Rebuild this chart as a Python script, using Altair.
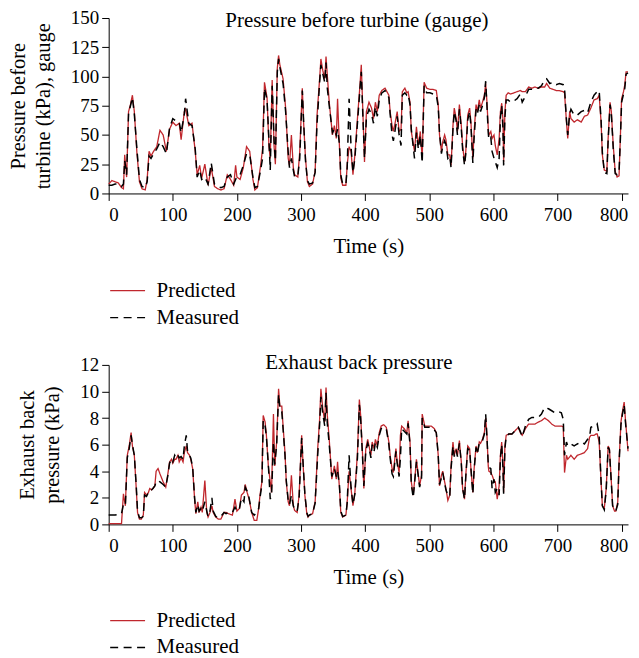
import altair as alt
import pandas as pd

FONT = "Liberation Serif"
RED = "#c0272d"

# ---------------- Top panel: pressure before turbine (kPa, gauge) ----------------
top_time = [0, 5, 10, 15, 20, 23, 25, 28, 31, 34, 37, 40, 44, 48, 52, 57,
            60, 63, 66, 70, 75, 80, 85, 90, 95, 100, 105, 110, 113, 118, 120, 125, 130,
            135, 138, 142, 145, 150, 155, 160, 165, 170, 175, 180, 185, 190, 195, 198, 200,
            205, 210, 215, 220, 225, 228, 232, 237, 240, 243, 247, 250, 252, 255, 258, 260,
            263, 265, 267, 272, 276, 280, 282, 285, 288, 290, 295, 298,
            302, 304, 307, 310, 313, 318, 322, 325, 329, 331, 334, 337, 339, 341, 344, 349,
            352, 355, 357, 360, 362, 365, 370, 372, 375, 378, 381, 384, 388, 392, 394, 397, 399,
            402, 406, 410, 413, 416, 419, 422, 426, 431, 437, 439, 442, 444, 447, 450, 453, 456, 458,
            462, 465, 467, 470, 472, 477, 480, 483, 486, 489, 492, 496,
            501, 506, 511, 514, 516, 519, 521, 524, 526, 529, 532, 534, 537, 539, 542, 544, 547, 550,
            552, 555, 557, 560, 563, 565, 568, 570, 573, 575, 578, 580, 583, 586, 588, 590,
            592, 593, 596, 598, 601, 603, 606, 609, 611, 613, 615, 616, 618, 620, 623, 627,
            632, 637, 642, 645, 650, 655, 660, 665, 670, 675, 680, 683, 688, 693, 698, 703, 709,
            711, 714, 716, 719, 721, 726, 731, 737, 742, 747, 752, 757, 762, 765,
            768, 770, 773, 777, 779, 782, 784, 787, 790, 793, 796, 798, 800, 803, 805, 807, 810]
top_predicted = [8, 11, 10, 9, 5, 4, 33, 14, 70, 76, 84, 70, 35, 10, 4, 3,
                 12, 36, 32, 36, 40, 54, 50, 36, 55, 61, 58, 60, 46, 70, 72, 58, 60,
                 36, 16, 24, 13, 25, 7, 22, 6, 4, 3, 4, 16, 12, 7, 24, 14,
                 12, 22, 40, 36, 12, 3, 5, 24, 38, 95, 82, 40, 30, 97, 40, 25,
                 107, 118, 110, 98, 73, 30, 24, 50, 22, 16, 14, 36,
                 90, 61, 30, 10, 6, 8, 19, 67, 98, 115, 105, 98, 117, 101, 78, 50,
                 58, 47, 81, 39, 13, 7, 7, 24, 40, 36, 16, 33, 64, 93, 110, 61, 27,
                 70, 78, 73, 64, 78, 70, 84, 88, 90, 84, 70, 58, 53, 61, 70, 53, 55, 87,
                 90, 86, 87, 78, 53, 36, 57, 41, 53, 30, 95, 90,
                 89, 89, 88, 76, 50, 36, 44, 50, 46, 33, 33, 24, 58, 73, 64, 53, 76, 58,
                 41, 27, 36, 67, 73, 61, 30, 53, 76, 70, 80, 73, 78, 84, 94, 78,
                 56, 50, 53, 47, 50, 41, 33, 47, 70, 77, 63, 27, 70, 84, 86, 85,
                 86, 87, 88, 87, 87, 91, 90, 91, 90, 91, 91, 94, 90, 89, 88, 88, 87,
                 86, 61, 47, 70, 64, 61, 63, 61, 66, 67, 73, 80, 81, 84,
                 61, 33, 20, 19, 47, 78, 70, 41, 19, 14, 15, 47, 81, 87, 93, 104, 104]
top_measured = [7, 7, 8, 8, 6, 8, 28, 16, 68, 75, 82, 68, 38, 12, 6, 5,
                10, 32, 30, 34, 38, 44, 40, 34, 56, 64, 62, 61, 52, 68, 81, 60, 58,
                38, 14, 20, 12, 14, 8, 26, 8, 6, 5, 6, 14, 16, 8, 12, 14,
                16, 24, 34, 33, 14, 5, 6, 20, 30, 90, 80, 45, 20, 92, 45, 28,
                104, 115, 108, 94, 70, 35, 22, 30, 20, 14, 15, 30,
                88, 62, 28, 11, 8, 9, 18, 60, 95, 110, 102, 95, 112, 90, 75, 52,
                55, 50, 55, 42, 16, 8, 8, 22, 81, 40, 18, 30, 60, 90, 104, 58, 30,
                65, 72, 68, 60, 74, 66, 80, 86, 88, 82, 68, 50, 45, 55, 66, 50, 41, 84,
                86, 84, 85, 76, 55, 30, 52, 38, 50, 26, 92, 86,
                86, 85, 84, 74, 52, 34, 40, 45, 42, 30, 32, 22, 55, 70, 62, 50, 72, 55,
                38, 24, 34, 63, 70, 58, 26, 48, 72, 68, 76, 70, 75, 82, 96, 75,
                52, 46, 48, 36, 30, 27, 22, 30, 65, 75, 55, 24, 65, 80, 80, 78,
                79, 81, 85, 78, 83, 89, 89, 90, 90, 92, 97, 98, 94, 95, 93, 94, 93,
                90, 63, 50, 68, 72, 67, 67, 70, 71, 69, 78, 84, 87, 88,
                63, 35, 18, 17, 45, 76, 68, 38, 17, 16, 18, 45, 78, 85, 90, 102, 103]

# ---------------- Bottom panel: exhaust back pressure (kPa) ----------------
bot_time = [0, 5, 10, 15, 20,
            23, 26, 29, 32, 35, 37, 40, 43, 45, 48, 51, 54,
            56, 59, 62, 64, 67, 69, 72,
            74, 77, 80, 85, 89, 92, 95, 98, 100, 103, 105, 108, 110, 113, 116,
            118, 121, 123, 126, 128, 131, 134, 136, 139, 141, 144, 146,
            150, 153, 155, 158, 161, 163, 167, 171, 175,
            180, 183, 187, 193, 197, 200, 204, 207, 211, 213, 216, 219, 223, 227, 231, 234, 236, 239,
            241, 244, 246, 249, 252, 254, 257, 259, 262, 265, 267, 270, 272, 275, 277, 280, 282,
            285, 288, 290, 294, 297, 301, 303, 306, 309, 311, 313, 318, 322,
            326, 329, 331, 334, 337, 339, 341, 344, 348, 352, 355, 357, 360, 362, 365, 370, 372,
            375, 378, 381, 384, 388, 391, 393, 396, 398,
            401, 404, 406, 409, 411, 414, 416, 419, 422, 425, 429, 433, 437, 439, 442, 444, 448, 450, 453,
            455, 457, 461, 465, 467, 470, 472, 475, 478, 480, 483, 485, 488,
            489, 493, 498, 503, 508, 511, 514, 516, 519, 521, 524, 526, 529,
            532, 534, 537, 539, 542, 544, 547, 550, 552, 555, 557, 560, 563, 565, 568, 570, 573, 575, 578, 580, 583, 586,
            588, 590, 592, 593, 596, 598, 601, 603, 606, 609,
            611, 613, 615, 616, 618, 620, 624, 629, 634, 639, 642, 645, 650,
            655, 660, 665, 670, 675, 680, 686, 691, 696, 701, 706, 709,
            711, 714, 716, 721, 726, 731, 737, 742, 747, 750, 752, 757, 760, 762, 765,
            768, 770, 773, 776, 779, 781, 784, 786, 789, 791, 794, 796, 799, 801, 804, 806, 810]
bot_predicted = [0.05, 0.05, 0.05, 0.05, 0.05,
                 2.3, 1.4, 5.2, 5.9, 6.9, 5.9, 5.2, 2.7, 0.9, 0.4, 0.4, 0.7,
                 2.4, 2.2, 2.4, 2.7, 2.6, 2.7, 2.9,
                 4.0, 4.2, 3.8, 3.2, 2.8, 3.7, 4.7, 4.9, 4.6, 4.9, 4.9, 5.2, 4.7, 5.0, 4.7,
                 5.4, 5.9, 5.4, 5.2, 4.9, 4.2, 1.9, 0.8, 1.7, 0.9, 1.3, 0.9,
                 3.3, 0.9, 0.55, 0.9, 1.4, 0.9, 0.55, 0.4, 0.4,
                 0.9, 0.9, 0.8, 0.7, 1.9, 1.0, 1.2, 2.2, 2.4, 3.0, 2.4, 1.9, 0.9, 0.3, 0.3, 1.2, 2.2, 3.2,
                 8.2, 7.7, 6.7, 4.4, 3.2, 2.4, 8.3, 4.4, 6.2, 10.2, 8.9, 8.9, 7.4, 5.4, 3.2, 1.7, 1.4,
                 3.7, 1.4, 1.05, 0.9, 2.2, 6.7, 4.7, 2.2, 0.8, 0.55, 0.7, 0.8, 1.7,
                 5.7, 7.9, 10.2, 8.7, 7.7, 10.3, 8.2, 6.4, 3.4, 4.4, 3.4, 4.7, 2.7, 0.9, 0.55, 0.7, 1.7,
                 4.0, 2.7, 1.4, 2.4, 5.4, 9.4, 8.2, 5.2, 2.7,
                 5.7, 6.4, 5.9, 5.2, 6.2, 5.7, 6.4, 5.9, 6.9, 7.4, 7.5, 7.3, 6.2, 5.2, 4.2, 3.9, 5.7, 4.7, 3.9,
                 6.7, 7.4, 7.2, 6.9, 7.8, 6.2, 3.2, 2.2, 3.7, 4.9, 3.7, 2.9, 3.7,
                 8.3, 7.4, 7.4, 7.4, 7.2, 6.9, 5.2, 2.9, 3.7, 4.0, 3.2, 2.7, 1.8,
                 2.2, 4.4, 6.2, 5.2, 5.7, 5.2, 6.3, 4.7, 2.7, 1.9, 3.7, 5.9, 5.7, 4.2, 2.4, 4.2, 5.9, 5.4, 6.2, 6.1, 6.4, 6.9,
                 8.0, 6.7, 4.4, 4.0, 3.9, 3.7, 3.3, 3.2, 1.9, 2.9,
                 5.2, 6.2, 4.4, 2.4, 5.9, 6.7, 6.8, 6.8, 7.05, 7.3, 6.9, 6.7, 7.2,
                 7.55, 7.55, 7.55, 7.7, 7.8, 8.0, 7.8, 7.55, 7.4, 7.4, 7.4, 7.35,
                 3.9, 5.2, 4.9, 5.2, 4.9, 5.2, 5.3, 5.4, 5.7, 6.55, 6.7, 6.7, 6.8, 6.8, 6.2,
                 3.2, 1.4, 1.2, 2.7, 5.9, 5.7, 3.2, 1.4, 1.0, 1.0, 1.7, 4.7, 7.7, 8.4, 9.2, 7.9, 5.5]
bot_measured = [0.7, 0.7, 0.7, 0.75, 0.8,
                1.5, 1.4, 5.0, 5.7, 6.7, 6.0, 5.2, 2.9, 1.0, 0.5, 0.5, 0.6,
                2.2, 2.1, 2.4, 2.6, 2.6, 2.7, 2.9,
                3.2, 3.3, 3.2, 3.0, 2.8, 3.6, 4.6, 4.9, 4.7, 5.2, 5.0, 5.2, 5.0, 5.1, 4.9,
                5.9, 6.7, 5.5, 5.2, 5.0, 4.3, 2.0, 0.9, 1.5, 1.0, 1.2, 1.0,
                1.7, 1.0, 0.6, 1.0, 2.0, 1.0, 0.6, 0.5, 0.6,
                0.9, 0.8, 0.9, 0.9, 1.3, 1.0, 1.2, 2.0, 1.7, 2.8, 2.5, 2.0, 0.9, 0.7, 0.9, 1.2, 2.0, 3.0,
                7.8, 7.4, 6.6, 4.5, 1.9, 2.2, 6.2, 4.5, 6.0, 9.8, 8.7, 8.5, 7.2, 5.2, 3.3, 1.8, 1.5,
                2.2, 1.4, 1.1, 1.0, 2.0, 6.5, 4.8, 2.3, 0.9, 0.6, 0.7, 0.8, 1.6,
                5.2, 7.5, 9.6, 8.3, 7.4, 9.9, 7.6, 6.0, 3.6, 4.2, 3.6, 4.0, 2.9, 1.0, 0.6, 0.7, 1.6,
                5.2, 2.8, 1.5, 2.3, 5.0, 9.0, 8.0, 5.0, 2.9,
                5.5, 6.1, 5.8, 5.0, 6.0, 5.5, 6.2, 5.8, 6.7, 7.2, 7.3, 7.2, 6.0, 5.0, 3.8, 3.6, 5.5, 4.6, 3.6,
                5.0, 7.2, 7.0, 6.8, 7.6, 6.0, 3.0, 2.0, 3.6, 4.7, 3.6, 2.8, 3.5,
                8.0, 7.3, 7.3, 7.3, 7.1, 6.9, 5.2, 3.0, 3.5, 3.9, 3.1, 2.6, 2.2,
                2.1, 4.2, 5.9, 5.1, 5.6, 5.1, 6.1, 4.6, 2.7, 1.9, 3.6, 5.7, 5.6, 4.2, 2.3, 4.1, 5.8, 5.3, 6.1, 6.1, 6.3, 6.8,
                8.3, 6.5, 4.6, 4.3, 4.2, 2.7, 3.4, 2.4, 2.7, 2.2,
                5.0, 6.0, 4.2, 2.3, 5.7, 6.6, 6.8, 6.8, 7.05, 7.3, 7.0, 6.6, 7.4,
                7.9, 8.05, 8.05, 8.05, 8.3, 8.8, 8.7, 8.55, 8.4, 8.5, 8.4, 7.9,
                5.2, 6.2, 5.9, 6.05, 5.9, 6.05, 6.2, 6.05, 6.4, 6.55, 7.3, 7.4, 7.4, 7.55, 6.7,
                3.2, 1.4, 1.1, 2.6, 5.8, 5.6, 3.1, 1.4, 1.2, 1.0, 1.5, 4.5, 7.5, 8.2, 9.0, 7.7, 5.7]

series_names = ["Predicted", "Measured"]
x_ticks = [0, 100, 200, 300, 400, 500, 600, 700, 800]
top_y_ticks = [0, 25, 50, 75, 100, 125, 150]
bot_y_ticks = [0, 2, 4, 6, 8, 10, 12]

PLOT_W = 521


def long_frame(t, pred, meas):
    return pd.DataFrame({
        "time": list(t) + list(t),
        "value": list(pred) + list(meas),
        "series": ["Predicted"] * len(t) + ["Measured"] * len(t),
    })


def panel(df, title, ytitle, ydomain, yticks, height, title_x, title_y, legend_y):
    legend = alt.Legend(
        orient="none", legendX=8.5, legendY=legend_y, direction="vertical",
        title=None, symbolType="M-2.5,0H2.5", symbolSize=196, symbolStrokeWidth=1.3,
        labelFont=FONT, labelFontSize=21, labelColor="black", labelOffset=18.5,
        rowPadding=5,
    )
    x = alt.X("time:Q", scale=alt.Scale(domain=[0, 810], nice=False, zero=False),
              axis=alt.Axis(values=x_ticks, title="Time (s)",
                            labelOffset={"condition": {"test": "datum.value == 800", "value": -8},
                                         "value": 0}))
    y = alt.Y("value:Q", scale=alt.Scale(domain=ydomain, nice=False),
              axis=alt.Axis(values=yticks, title=ytitle))
    color = alt.Color("series:N", scale=alt.Scale(domain=series_names, range=[RED, "black"]),
                      legend=legend)
    dash = alt.StrokeDash("series:N", scale=alt.Scale(domain=series_names, range=[[1, 0], [8, 5.5]]),
                          legend=legend)
    base = alt.Chart(df)
    pred = base.transform_filter(alt.datum.series == "Predicted").mark_line(
        strokeWidth=1.3).encode(x=x, y=y, color=color, strokeDash=dash)
    meas = base.transform_filter(alt.datum.series == "Measured").mark_line(
        strokeWidth=1.5).encode(x=x, y=y, color=color, strokeDash=dash)
    ttl = alt.Chart(pd.DataFrame({"label": [title]})).mark_text(
        font=FONT, fontSize=21, baseline="top", align="center", color="black"
    ).encode(text="label:N", x=alt.value(title_x), y=alt.value(title_y))
    return alt.layer(pred, meas, ttl).properties(width=PLOT_W, height=height)


top = panel(long_frame(top_time, top_predicted, top_measured),
            "Pressure before turbine (gauge)", ["Pressure before", "turbine (kPa), gauge"],
            [0, 150], top_y_ticks, 176, 249, -8, 263)
bottom = panel(long_frame(bot_time, bot_predicted, bot_measured),
               "Exhaust back pressure", ["Exhaust back", "pressure (kPa)"],
               [0, 12], bot_y_ticks, 160, 251, -13, 246)

chart = alt.vconcat(top, bottom, spacing=24).resolve_scale(
    x="independent", y="independent", color="independent", strokeDash="independent"
).resolve_legend(color="independent", strokeDash="independent").properties(
    padding=0
).configure_view(stroke=None).configure_axis(
    labelFont=FONT, labelFontSize=19, labelColor="black",
    titleFont=FONT, titleFontSize=21, titleFontWeight="normal", titleColor="black",
    domainColor="black", tickColor="black", grid=False, tickSize=7,
    titleLineHeight=25,
).configure_axisX(labelPadding=5, titlePadding=11).configure_axisY(
    labelPadding=3, titlePadding=17, titleFontSize=20.5)

chart.save("out.html", embed_options={"renderer": "svg", "actions": False})
